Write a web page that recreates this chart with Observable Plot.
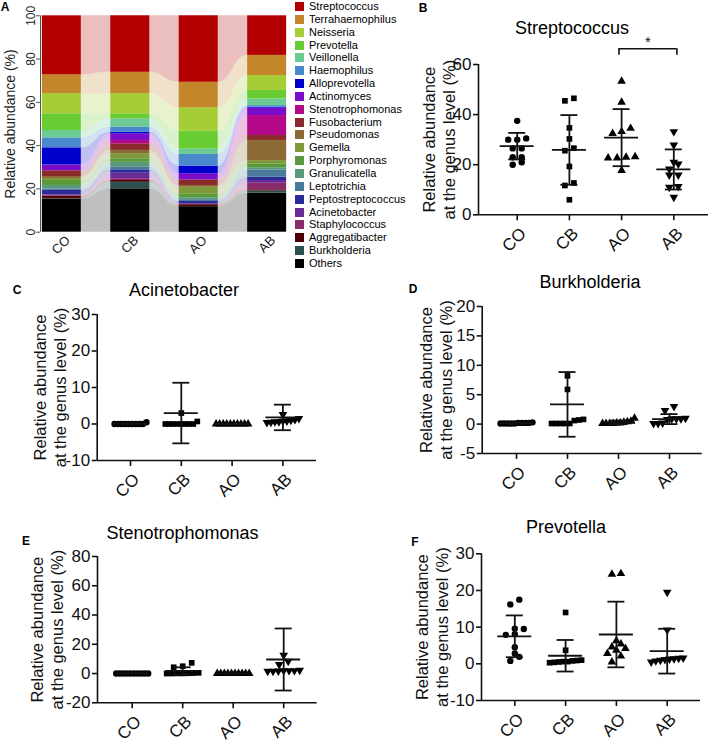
<!DOCTYPE html>
<html><head><meta charset="utf-8">
<script src="https://cdn.jsdelivr.net/npm/d3@7"></script>
<script src="https://cdn.jsdelivr.net/npm/@observablehq/plot@0.6"></script>
<style>
body{margin:0;background:#fff;font-family:"Liberation Sans",Arial,sans-serif;color:#000;}
#fig{position:relative;width:710px;height:744px;overflow:hidden;background:#fff;}
.panel{position:absolute;}
.letter{position:absolute;font-weight:bold;font-size:12px;line-height:1;transform:translate(-50%,-50%);}
.title{position:absolute;font-size:18px;line-height:1;transform:translate(-50%,-50%);white-space:nowrap;}
.leg{position:absolute;font-size:11px;line-height:12.85px;white-space:nowrap;}
.leg span.sw{display:inline-block;width:9px;height:9px;margin-right:5px;vertical-align:-1px;}
</style></head><body><div id="fig"></div>
<script>
// ---------------- DATA ----------------
const groups = ["CO", "CB", "AO", "AB"];
const genera = ["Streptococcus","Terrahaemophilus","Neisseria","Prevotella","Veillonella","Haemophilus","Alloprevotella","Actinomyces","Stenotrophomonas","Fusobacterium","Pseudomonas","Gemella","Porphyromonas","Granulicatella","Leptotrichia","Peptostreptococcus","Acinetobacter","Staphylococcus","Aggregatibacter","Burkholderia","Others"];
const genusColors = ["#b20000","#c4862a","#a6cc36","#6acc33","#6ccb94","#4a88cc","#0000cc","#7a0ccc","#b3088a","#8b2a2a","#8c6a33","#80993a","#5a9a3a","#5a9a7c","#4a7a9a","#2b2b99","#6a2b99","#8a2b6b","#4a0000","#2b5050","#000000"];
// relative abundance (%) per genus (same order as genera)
const abundanceCO = [27.3, 8.7, 9.3, 7.7, 3.4, 4.6, 7.9, 2.6, 0.1, 2.7, 0.9, 0.9, 2.3, 1.6, 0.7, 2.0, 0.3, 0.4, 1.0, 0.2, 15.4];
const abundanceCB = [26.1, 9.9, 9.3, 2.3, 3.9, 2.3, 0.7, 3.1, 1.6, 3.0, 1.6, 2.3, 1.6, 2.3, 1.2, 1.5, 2.6, 0.8, 0.8, 3.1, 20.0];
const abundanceAO = [30.7, 11.8, 10.8, 8.2, 2.6, 5.4, 3.5, 2.8, 0.1, 2.5, 0.8, 3.1, 1.8, 0.9, 0.8, 1.1, 0.1, 0.3, 0.8, 0.1, 11.8];
const abundanceAB = [18.3, 9.3, 6.9, 3.9, 3.1, 0.7, 0.5, 3.4, 9.2, 2.3, 9.3, 1.5, 1.8, 1.0, 3.4, 1.5, 1.3, 3.0, 0.6, 1.0, 18.0];
const abundanceTicks = [0, 20, 40, 60, 80, 100];

const streptococcusValues = [
  [37.5, 30.0, 30.5, 30.0, 26.5, 26.5, 23.0, 23.0, 20.0, 21.0],
  [45.5, 46.5, 34.7, 30.3, 26.6, 25.6, 19.3, 12.7, 11.7, 6.0],
  [53.3, 44.9, 34.5, 32.5, 33.2, 23.2, 22.7, 22.7, 23.0, 17.7],
  [33.2, 27.9, 21.0, 20.3, 18.3, 15.9, 15.9, 11.3, 11.0, 7.0]];
const streptococcusMean = [27.4, 25.9, 30.8, 18.1];
const streptococcusSD = [5.3, 13.9, 11.4, 8.0];
const streptococcusTicks = [0, 20, 40, 60];

const acinetobacterValues = [
  [0, 0, 0, 0, 0, 0, 0, 0, 0.5, 0],
  [3.0, 0.7, 0, 0, 0, 0, 0, 0, 0, 0],
  [0, 0, 0, 0, 0, 0, 0, 0, 0, 0],
  [2.6, 1.5, 1.0, 0.8, 0.6, 0.5, 0.4, 0.6, 0.8, 1.2]];
const acinetobacterMean = [0.1, 3.0, 0.0, 1.8];
const acinetobacterSD = [0.15, 8.3, 0.05, 3.5];
const acinetobacterTicks = [-10, 0, 10, 20, 30];

const burkholderiaValues = [
  [0.2, 0.1, 0.1, 0.2, 0.1, 0.3, 0.2, 0.1, 0.1, 0.2],
  [8.2, 5.9, 0.7, 0.6, 0.8, 0.1, 0.1, 0.1, 0.1, 0.1],
  [1.0, 0.5, 0.4, 0.3, 0.2, 0.2, 0.1, 0.1, 0.1, 0.1],
  [3.0, 2.3, 1.0, 0.9, 0.8, 0.9, 0.1, 0.1, 0.2, 0.9]];
const burkholderiaMean = [0.15, 3.35, 0.3, 0.85];
const burkholderiaSD = [0.1, 5.5, 0.3, 0.85];
const burkholderiaTicks = [-5, 0, 5, 10, 15, 20];

const stenotrophomonasValues = [
  [0, 0, 0, 0, 0, 0, 0, 0, 0, 0],
  [7.3, 5.0, 4.3, 0.5, 0.3, 0.2, 0.1, 0.1, 0, 0],
  [0, 0, 0, 0, 0, 0, 0, 0, 0, 0],
  [12.5, 8.4, 6.2, 2.0, 2.0, 1.8, 1.5, 2.2, 2.0, 1.5]];
const stenotrophomonasMean = [0.05, 1.8, 0.05, 9.6];
const stenotrophomonasSD = [0.05, 2.5, 0.05, 21.2];
const stenotrophomonasTicks = [-20, 0, 20, 40, 60, 80];

const prevotellaValues = [
  [17.5, 16.2, 9.6, 9.5, 8.1, 7.9, 4.5, 2.8, 1.9, 0.8],
  [14.0, 3.7, 1.0, 0.8, 0.6, 0.5, 0.4, 0.6, 0.9, 0.3],
  [24.6, 24.4, 6.3, 5.4, 4.6, 4.2, 3.7, 2.8, 2.1, 0.5],
  [19.5, 9.2, 1.6, 1.4, 1.5, 1.2, 0.5, 0.8, 1.3, 1.0]];
const prevotellaMean = [7.5, 2.2, 8.0, 3.45];
const prevotellaSD = [5.7, 4.3, 8.95, 6.1];
const prevotellaTicks = [-10, 0, 10, 20, 30];

const streptococcusSignificance = [{from: "AO", to: "AB", label: "*", level: 66.3}];

const yLabelA = "Relative abundance (%)";
const yLabelGenus = "Relative abundance\nat the genus level (%)";

// ---------------- DRAWING ----------------
const FONT = "'Liberation Sans', Arial, Helvetica, sans-serif";
const fig = document.getElementById("fig");
function place(node, x, y) {
  const d = document.createElement("div");
  d.className = "panel"; d.style.left = x + "px"; d.style.top = y + "px";
  d.appendChild(node); fig.appendChild(d);
}
function addText(cls, text, x, y) {
  const d = document.createElement("div");
  d.className = cls; d.textContent = text;
  d.style.left = x + "px"; d.style.top = y + "px";
  fig.appendChild(d);
}

// ---- Panel A: stacked bars with flows ----
(function () {
  const abundance = [abundanceCO, abundanceCB, abundanceAO, abundanceAB];
  const hw = 0.285;
  const stackRows = [];
  const bounds = abundance.map(() => ({}));
  abundance.forEach((vals, gi) => {
    let cum = 0;
    for (let k = genera.length - 1; k >= 0; k--) {
      const row = {genus: genera[k], gi, y1: cum, y2: cum + vals[k]};
      stackRows.push(row); bounds[gi][genera[k]] = row;
      cum += vals[k];
    }
  });
  const flowRows = [];
  for (const g of genera) {
    groups.forEach((_, gi) => {
      const b = bounds[gi][g];
      if (gi > 0) flowRows.push({genus: g, x: gi - hw, y1: b.y1, y2: b.y2});
      if (gi < groups.length - 1) flowRows.push({genus: g, x: gi + hw, y1: b.y1, y2: b.y2});
    });
  }
  const W = 290, H = 290, mL = 40, mR = 3.3, mT = 15.3, mB = 58.3;
  const cat0 = 61.35, step = 68.43;
  const xDomain = [(mL - cat0) / step, (W - mR - cat0) / step];
  const svg = Plot.plot({
    width: W, height: H, marginLeft: mL, marginRight: mR, marginTop: mT, marginBottom: mB,
    x: {domain: xDomain, axis: null, label: null},
    y: {domain: [0, 100], axis: null, label: null},
    color: {domain: genera, range: genusColors},
    style: {fontFamily: FONT, fontSize: "12px", color: "#000", background: "transparent", overflow: "visible"},
    marks: [
      Plot.area(flowRows, {x1: "x", y1: "y1", y2: "y2", z: "genus", fill: "genus", fillOpacity: 0.25, curve: "bump-x"}),
      Plot.rect(stackRows, {x1: d => d.gi - hw, x2: d => d.gi + hw, y1: "y1", y2: "y2", fill: "genus"}),
      Plot.ruleX([xDomain[0]], {stroke: "#555", strokeWidth: 1}),
      Plot.ruleY(abundanceTicks, {x1: xDomain[0] - 4 / step, x2: xDomain[0], stroke: "#555", strokeWidth: 1}),
      Plot.text(abundanceTicks, {x: xDomain[0], y: d => d, text: d => String(d), rotate: -90, textAnchor: "middle", lineAnchor: "bottom", dx: -6, fontSize: 12, fill: "#222"}),
      Plot.text(groups, {x: (d, i) => i, y: 0, text: d => d, rotate: -45, textAnchor: "end", lineAnchor: "middle", dx: 6, dy: 6, fontSize: 13, fill: "#222"}),
      Plot.text([yLabelA], {frameAnchor: "left", rotate: -90, textAnchor: "middle", dx: -30, fontSize: 14, text: d => d, fill: "#222"})
    ]
  });
  place(svg, 0, 0);
  // legend
  const leg = document.createElement("div");
  leg.className = "leg"; leg.style.left = "295px"; leg.style.top = "0px";
  genera.forEach((g, i) => {
    const row = document.createElement("div");
    const sw = document.createElement("span"); sw.className = "sw"; sw.style.background = genusColors[i];
    row.appendChild(sw); row.appendChild(document.createTextNode(g));
    leg.appendChild(row);
  });
  fig.appendChild(leg);
})();

// ---- Scatter panels ----
const triangleDown = {
  draw(context, size) {
    const y = -Math.sqrt(size / (Math.sqrt(3) * 3));
    context.moveTo(0, -y * 2);
    context.lineTo(-Math.sqrt(3) * y, y);
    context.lineTo(Math.sqrt(3) * y, y);
    context.closePath();
  }
};
const groupSymbols = ["circle", "square", "triangle", triangleDown];

function jitter(vals, pxY, pxX) {
  const order = vals.map((_, i) => i).sort((a, b) => vals[a] - vals[b]);
  const clusters = [];
  let cur = [];
  for (const i of order) {
    if (cur.length && (vals[i] - vals[cur[0]]) * pxY > 6) { clusters.push(cur); cur = []; }
    cur.push(i);
  }
  if (cur.length) clusters.push(cur);
  const off = vals.map(() => 0);
  for (const c of clusters) {
    const n = c.length;
    const sp = n > 1 ? Math.min(9, 32 / (n - 1)) : 0;
    c.forEach((i, k) => off[i] = (k - (n - 1) / 2) * sp / pxX);
  }
  return off;
}

function scatterPanel(cfg) {
  const {values, means, sds, ticks, box, frame, cat0, step, labelDx, significance = []} = cfg;
  const [bx0, by0, bx1, by1] = box;
  const [fx0, fy0, fx1, fy1] = frame;
  const yDomain = [ticks[0], ticks[ticks.length - 1]];
  const xDomain = [(fx0 - cat0) / step, (fx1 - cat0) / step];
  const pxY = (fy1 - fy0) / (yDomain[1] - yDomain[0]);
  const pts = [];
  values.forEach((vals, gi) => {
    const off = jitter(vals, pxY, step);
    vals.forEach((v, j) => pts.push({gi, x: gi + off[j], v}));
  });
  const summary = groups.map((g, gi) => ({gi, mean: means[gi], lo: means[gi] - sds[gi], hi: means[gi] + sds[gi]}));
  const meanHW = 17 / step, capHW = 8.5 / step;
  const sig = significance.map(s => ({x1: groups.indexOf(s.from) - 0.05, x2: groups.indexOf(s.to) + 0.06, y: s.level, yTick: s.level - 6.5 / pxY, yText: s.level + 7 / pxY, label: s.label}));
  const marks = [
    Plot.ruleX([xDomain[0]], {strokeWidth: 1.6}),
    Plot.ruleY([yDomain[0]], {strokeWidth: 1.6}),
    Plot.axisY({ticks, tickSize: 5, tickPadding: 2, tickFormat: d => String(d), strokeWidth: 1.6}),
    Plot.ruleX(groups, {x: (d, i) => i, y1: yDomain[0], y2: yDomain[0] - 6 / pxY, strokeWidth: 1.6}),
    Plot.text(groups, {x: (d, i) => i, y: yDomain[0], text: d => d, rotate: -45, textAnchor: "end", lineAnchor: "middle", dx: 6, dy: 16}),
    ...groups.map((g, gi) => Plot.dot(pts.filter(p => p.gi === gi), {x: "x", y: "v", symbol: groupSymbols[gi], r: 3.2, fill: "#000", stroke: "none"})),
    Plot.ruleY(summary, {y: "mean", x1: d => d.gi - meanHW, x2: d => d.gi + meanHW, strokeWidth: 1.8}),
    Plot.ruleX(summary, {x: "gi", y1: "lo", y2: "hi", strokeWidth: 1.8}),
    Plot.ruleY(summary, {y: "hi", x1: d => d.gi - capHW, x2: d => d.gi + capHW, strokeWidth: 1.8}),
    Plot.ruleY(summary, {y: "lo", x1: d => d.gi - capHW, x2: d => d.gi + capHW, strokeWidth: 1.8}),
    Plot.ruleY(sig, {y: "y", x1: "x1", x2: "x2", strokeWidth: 1.6}),
    Plot.ruleX(sig, {x: "x1", y1: "y", y2: "yTick", strokeWidth: 1.6}),
    Plot.ruleX(sig, {x: "x2", y1: "y", y2: "yTick", strokeWidth: 1.6}),
    Plot.text(sig, {x: d => (d.x1 + d.x2) / 2, y: "yText", text: "label", fontSize: 15}),
    Plot.text([yLabelGenus], {frameAnchor: "left", rotate: -90, textAnchor: "middle", lineAnchor: "middle", dx: labelDx, fontSize: 16.5, lineHeight: 1.2, text: d => d})
  ];
  const svg = Plot.plot({
    width: bx1 - bx0, height: by1 - by0,
    marginLeft: fx0 - bx0, marginRight: bx1 - fx1, marginTop: fy0 - by0, marginBottom: by1 - fy1,
    x: {domain: xDomain, axis: null, label: null},
    y: {domain: yDomain, label: null},
    style: {fontFamily: FONT, fontSize: "17px", color: "#111", background: "transparent", overflow: "visible"},
    marks
  });
  place(svg, bx0, by0);
}

scatterPanel({values: streptococcusValues, means: streptococcusMean, sds: streptococcusSD, ticks: streptococcusTicks,
  box: [380, 40, 710, 290], frame: [478, 64, 708, 214.3], cat0: 516.7, step: 52.2, labelDx: -40, significance: streptococcusSignificance});
scatterPanel({values: acinetobacterValues, means: acinetobacterMean, sds: acinetobacterSD, ticks: acinetobacterTicks,
  box: [0, 300, 355, 500], frame: [96.7, 314, 316, 460], cat0: 130, step: 50.8, labelDx: -47.7});
scatterPanel({values: burkholderiaValues, means: burkholderiaMean, sds: burkholderiaSD, ticks: burkholderiaTicks,
  box: [355, 295, 710, 500], frame: [481.7, 306, 701.7, 453], cat0: 516, step: 51, labelDx: -46.4});
scatterPanel({values: stenotrophomonasValues, means: stenotrophomonasMean, sds: stenotrophomonasSD, ticks: stenotrophomonasTicks,
  box: [0, 545, 355, 744], frame: [97, 556, 316.7, 702.3], cat0: 131.7, step: 50.5, labelDx: -51.2});
scatterPanel({values: prevotellaValues, means: prevotellaMean, sds: prevotellaSD, ticks: prevotellaTicks,
  box: [355, 545, 710, 744], frame: [481, 553.3, 700, 700], cat0: 514.3, step: 50.8, labelDx: -50.2});

// titles and panel letters
addText("title", "Streptococcus", 572, 28);
addText("title", "Acinetobacter", 184, 290);
addText("title", "Burkholderia", 590, 282);
addText("title", "Stenotrophomonas", 182.5, 533);
addText("title", "Prevotella", 566, 527);
addText("letter", "A", 5, 7);
addText("letter", "B", 423, 8);
addText("letter", "C", 17, 290);
addText("letter", "D", 413, 289);
addText("letter", "E", 26, 541);
addText("letter", "F", 415, 542);
</script></body></html>
